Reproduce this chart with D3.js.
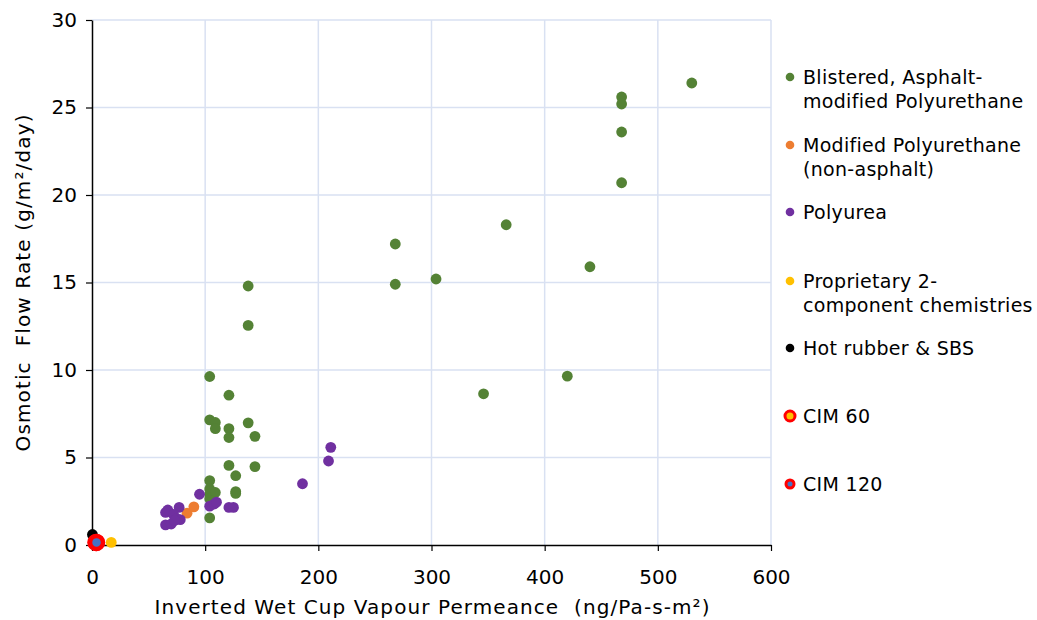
<!DOCTYPE html>
<html><head><meta charset="utf-8">
<script src="https://cdn.jsdelivr.net/npm/d3@7"></script>
<style>body{margin:0;background:#fff}svg{display:block}text{font-family:"DejaVu Sans",sans-serif;fill:#000}</style>
</head><body><svg id="c" width="1037" height="620"></svg>
<script>
const xTicks=[0,100,200,300,400,500,600];
const yTicks=[0,5,10,15,20,25,30];
const seriesNames=["Blistered, Asphalt-modified Polyurethane","Modified Polyurethane (non-asphalt)","Polyurea","Proprietary 2-component chemistries","Hot rubber & SBS","CIM 60","CIM 120"];
const legendLines=[["Blistered, Asphalt-","modified Polyurethane"],["Modified Polyurethane","(non-asphalt)"],["Polyurea"],["Proprietary 2-","component chemistries"],["Hot rubber & SBS"],["CIM 60"],["CIM 120"]];
const colors=["#548235","#ED7D31","#7030A0","#FFC000","#000000","#FFC000","#4472C4"];
const greenX=[530,468,468,468,468,366,268,268,304,440,420,346,138,138,104,121,104,109,109,121,121,138,144,121,144,127,104,104,104,104,109,106,127,127,104];
const greenY=[26.4,25.6,25.2,23.6,20.7,18.3,17.2,14.9,15.2,15.9,9.65,8.64,14.8,12.55,9.63,8.56,7.15,7.0,6.65,6.65,6.14,6.98,6.21,4.55,4.48,3.96,3.68,3.2,2.9,2.65,3.0,2.5,3.05,2.95,1.55];
const orangeX=[84,90];
const orangeY=[1.82,2.18];
const purpleX=[211,209,186,95,104,108,110,121,125,65,67,77,72,75,78,65,70,73];
const purpleY=[5.58,4.8,3.5,2.9,2.22,2.34,2.45,2.15,2.15,1.86,2.0,2.15,1.75,1.5,1.45,1.15,1.2,1.4];
const yellowX=[17];
const yellowY=[0.15];
const blackX=[0.4];
const blackY=[0.6];
const cim60X=[3.5];
const cim60Y=[0.15];
const cim120X=[4];
const cim120Y=[0.15];

const svg=d3.select("#c");
const L=92,R=771,T=20,B=545;
const x=d3.scaleLinear().domain([0,600]).range([L,R]);
const y=d3.scaleLinear().domain([0,30]).range([B,T]);
// gridlines
svg.append("g").selectAll("line").data(xTicks.slice(1)).join("line")
 .attr("x1",d=>x(d)).attr("x2",d=>x(d)).attr("y1",T).attr("y2",B)
 .attr("stroke","#d9e1f2").attr("stroke-width",1.5);
svg.append("g").selectAll("line").data(yTicks.slice(1)).join("line")
 .attr("y1",d=>y(d)).attr("y2",d=>y(d)).attr("x1",L).attr("x2",R)
 .attr("stroke","#d9e1f2").attr("stroke-width",1.5);
// axes
const xa=svg.append("g").attr("transform",`translate(0,${B})`)
 .call(d3.axisBottom(x).tickValues(xTicks).tickSize(6).tickSizeOuter(0).tickPadding(19));
const ya=svg.append("g").attr("transform",`translate(${L},0)`)
 .call(d3.axisLeft(y).tickValues(yTicks).tickSize(6).tickSizeOuter(0).tickPadding(9));
[xa,ya].forEach(g=>{g.select(".domain").attr("stroke","#000").attr("stroke-width",1.5);
 g.selectAll(".tick line").attr("stroke","#000").attr("stroke-width",1.2);
 g.selectAll("text").attr("font-size",20).attr("font-family","DejaVu Sans").attr("fill","#000");});
// data points
function dots(xs,ys,c){svg.append("g").selectAll("circle").data(xs.map((v,i)=>[v,ys[i]])).join("circle")
 .attr("cx",d=>x(d[0])).attr("cy",d=>y(d[1])).attr("r",5.4).attr("fill",c);}
dots(greenX,greenY,colors[0]);
dots(orangeX,orangeY,colors[1]);
dots(purpleX,purpleY,colors[2]);
dots(yellowX,yellowY,colors[3]);
dots(blackX,blackY,colors[4]);
function cim(xs,ys,c,r){svg.append("g").selectAll("circle").data(xs.map((v,i)=>[v,ys[i]])).join("circle")
 .attr("cx",d=>x(d[0])).attr("cy",d=>y(d[1])).attr("r",r).attr("fill",c).attr("stroke","#FF0000").attr("stroke-width",4.5);}
cim(cim60X,cim60Y,colors[5],6.5);
cim(cim120X,cim120Y,colors[6],6.5);
// axis titles
svg.append("text").attr("x",432).attr("y",614).attr("text-anchor","middle").attr("font-size",20)
 .attr("textLength",555).attr("lengthAdjust","spacing")
 .attr("xml:space","preserve").text("Inverted Wet Cup Vapour Permeance  (ng/Pa-s-m²)");
svg.append("text").attr("transform","translate(30,283) rotate(-90)").attr("text-anchor","middle").attr("font-size",20)
 .attr("textLength",337).attr("lengthAdjust","spacing")
 .attr("xml:space","preserve").text("Osmotic  Flow Rate (g/m²/day)");
// legend
const legY=[77,145,212,281,348,416,484];
const lg=svg.append("g");
legendLines.forEach((lines,i)=>{
 const g=lg.append("g").attr("transform",`translate(0,${legY[i]})`);
 if(i<5) g.append("circle").attr("cx",790).attr("cy",0).attr("r",4.3).attr("fill",colors[i]);
 else g.append("circle").attr("cx",790).attr("cy",0).attr("r",i==5?5:4).attr("fill",colors[i]).attr("stroke","#FF0000").attr("stroke-width",3);
 lines.forEach((t,j)=>g.append("text").attr("x",803).attr("y",j*24+7).attr("font-size",19).attr("letter-spacing",0.3).text(t));
});
</script></body></html>
